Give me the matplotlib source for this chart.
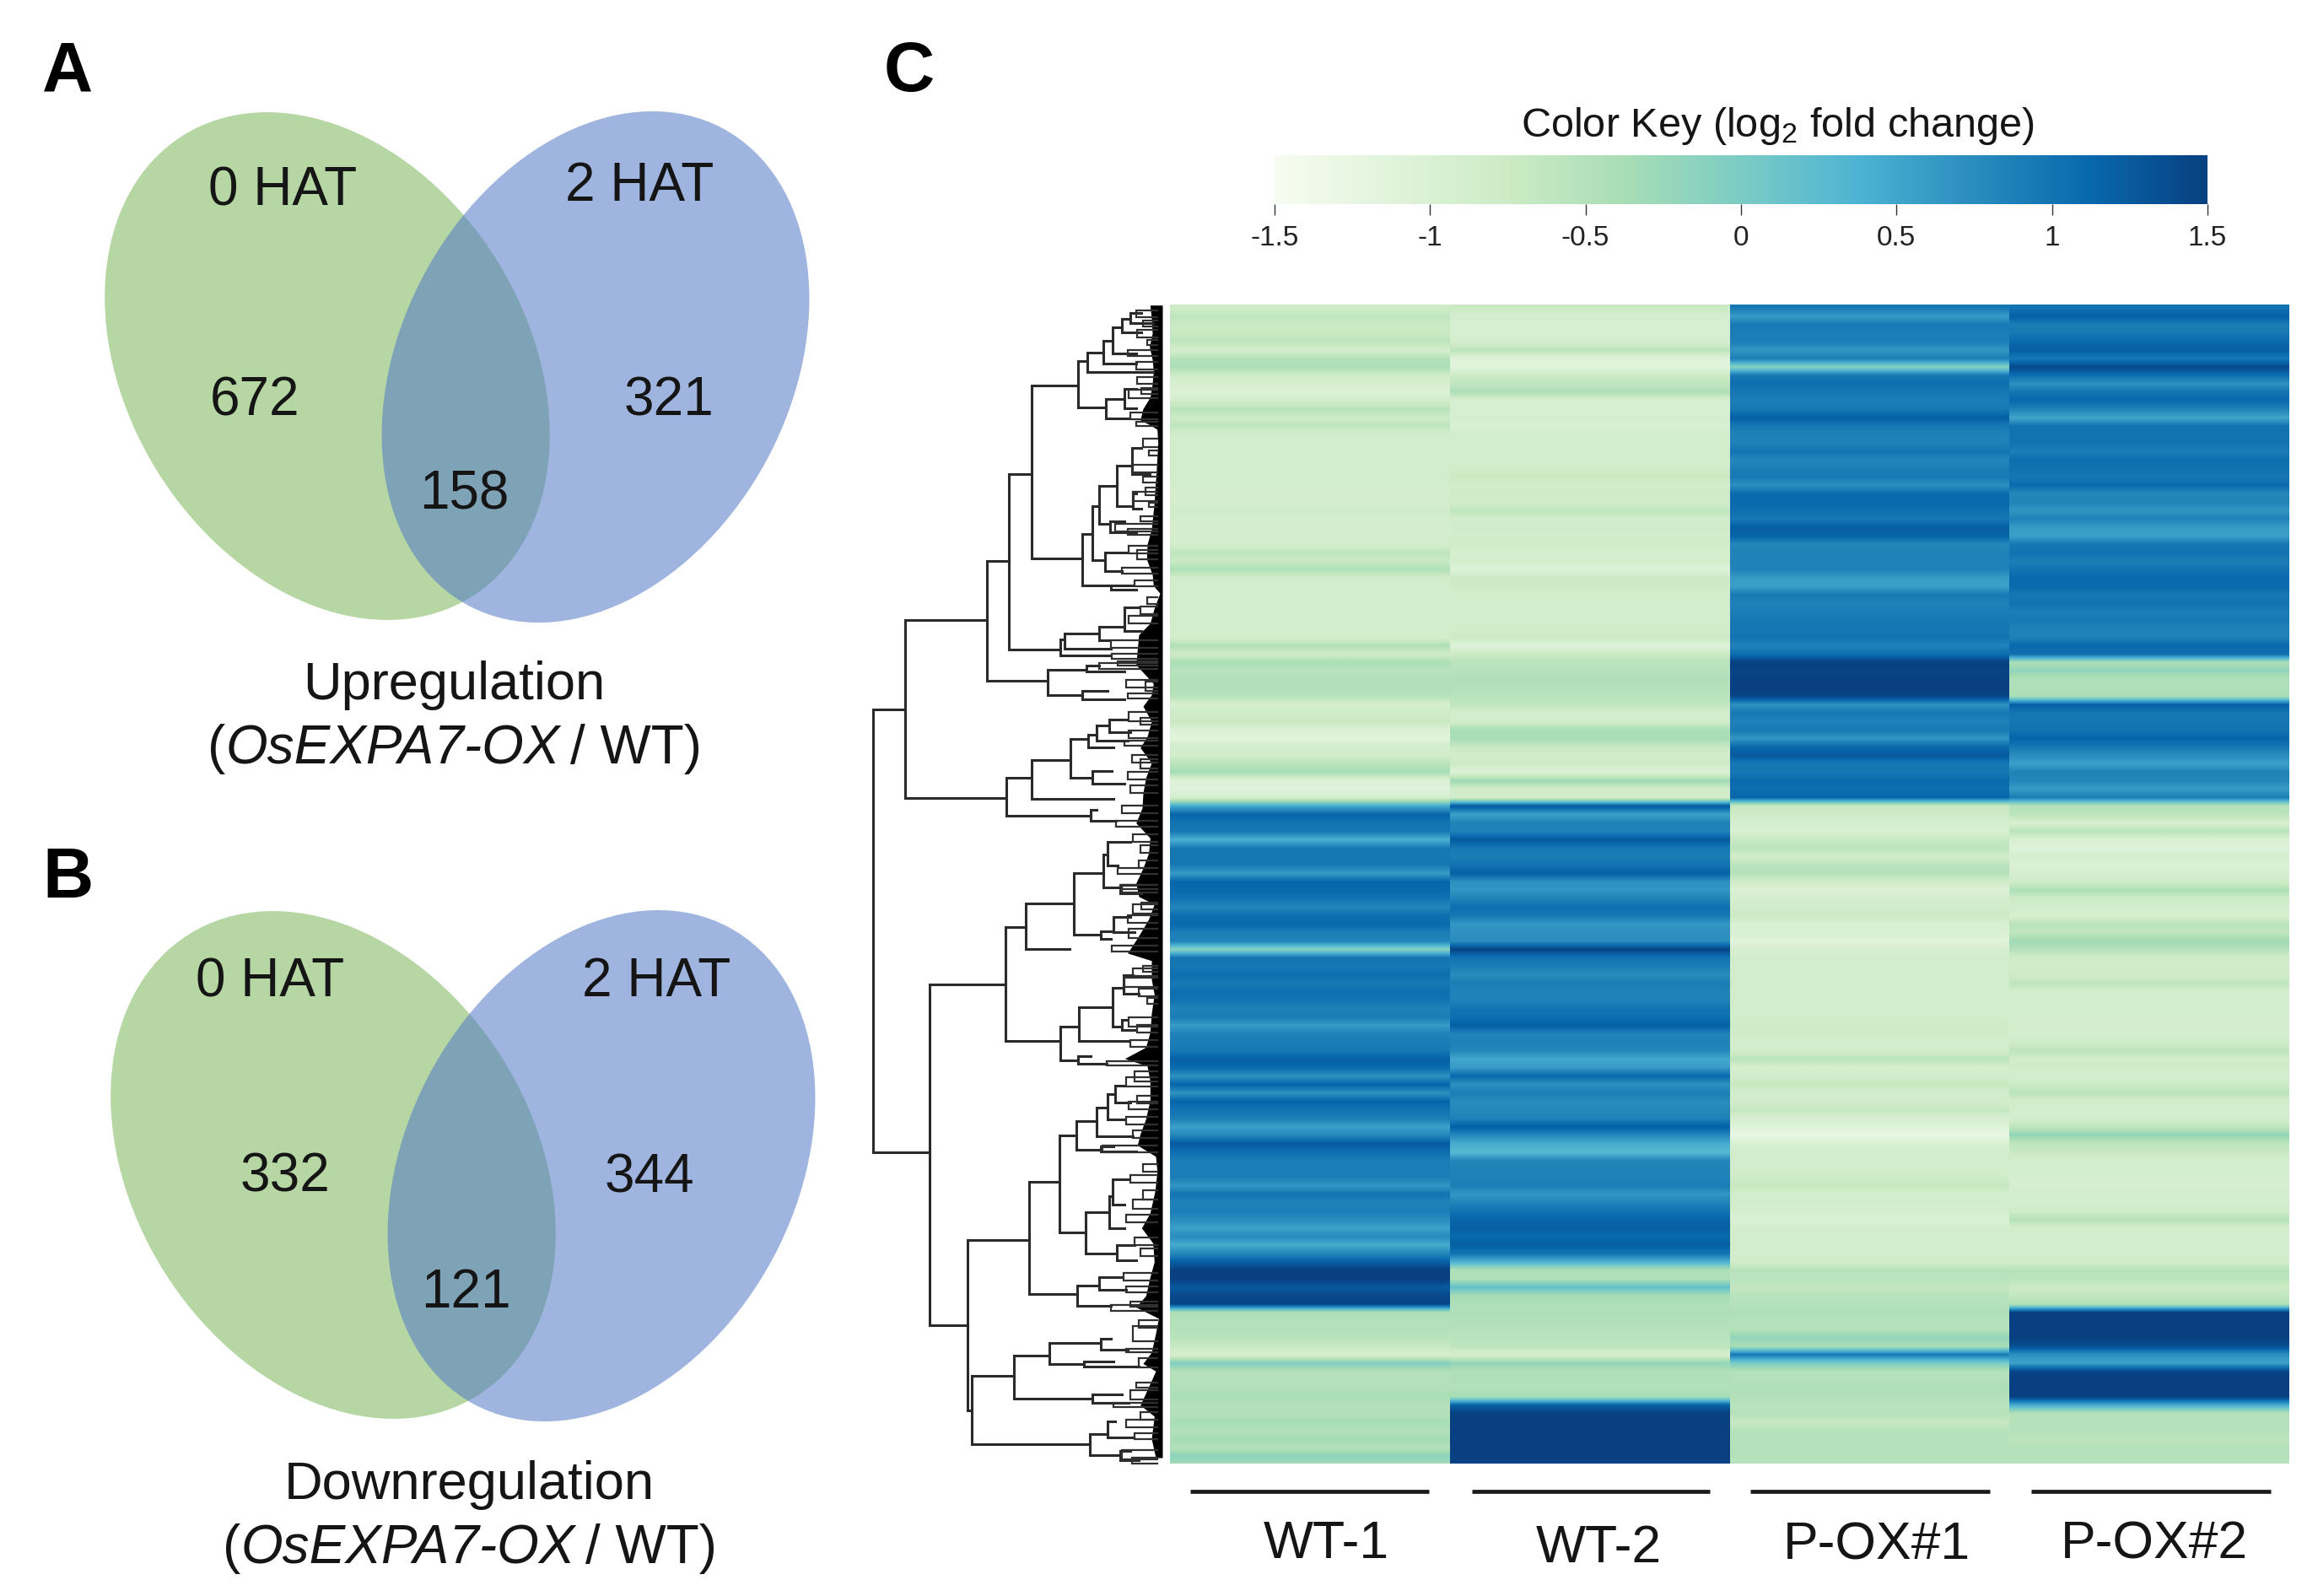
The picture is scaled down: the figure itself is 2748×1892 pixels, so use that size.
import numpy as np
import matplotlib
matplotlib.use("Agg")
import matplotlib.pyplot as plt
from matplotlib.patches import Ellipse
from matplotlib.cm import ScalarMappable
from matplotlib.colors import Normalize

plt.rcParams['font.family'] = ['Liberation Sans', 'DejaVu Sans']
plt.rcParams['mathtext.fontset'] = 'custom'
plt.rcParams['mathtext.rm'] = 'Liberation Sans'
plt.rcParams['mathtext.default'] = 'regular'

# Venn counts
venn_up = ["672", "321", "158"]
venn_down = ["332", "344", "121"]
time_labels = ["0 HAT", "2 HAT"]

# Heatmap, log2 fold change, one value per 10 px band
samples = ["WT-1", "WT-2", "P-OX#1", "P-OX#2"]
wt1 = [-.8,-.62,-.72,-.72,-.6,-.92,-.5,-.42,-.8,-.95,-1.05,-.85,-.55,-.75,-.62,-.85,-.85,-.85,-.85,-.85,-.87,-.88,-.88,-.9,-.82,-.9,-.88,-.88,-.88,-.62,
       -.72,-.45,-.85,-.85,-.87,-.87,-.87,-.87,-.87,-.9,-.45,-.8,-.42,-.55,-.48,-.48,-.52,-.95,-.8,-.72,-1.05,-1.15,-.85,-.85,-.55,-.38,-1.05,-1.1,-.9,.45,
       1.15,1.0,.95,.4,.95,.95,.95,.6,1.15,1.1,1.0,.8,1.05,1.1,.9,.85,-.1,1.0,.95,1.05,.95,1.05,1.0,.85,.9,.6,.85,.9,.95,1.2,
       1.1,.7,1.15,.7,1.15,1.0,.9,.55,.8,1.25,1.05,.9,.9,.9,.65,1.0,.85,.9,.75,.55,.75,.45,.8,1.2,1.5,1.5,1.25,1.4,1.45,-.45,
       -.5,-.5,-.55,-.7,-.95,-.05,-.5,-.5,-.48,-.4,-.5,-.5,-.38,-.5,-.35,-.5,-.15,-.35]
wt2 = [-.72,-.92,-.95,-.95,-.9,-.58,-1.1,-1.12,-.75,-.62,-.45,-.95,-.98,-.92,-1.0,-.85,-.85,-.85,-.85,-.85,-.72,-.85,-.78,-.85,-.62,-.85,-.82,-.88,-.8,-.92,
       -.9,-1.1,-.75,-.8,-.87,-.87,-.87,-.87,-.87,-.75,-1.1,-.75,-.55,-.52,-.48,-.5,-.55,-.62,-.88,-.85,-.4,-.38,-.7,-.85,-.78,-1.05,-.32,-.8,-.85,1.25,
       .55,.85,.85,1.25,.95,.9,1.0,1.2,.7,.65,.85,1.05,.95,.65,.7,.75,1.45,1.0,.9,.75,.9,.85,.85,1.0,1.05,1.2,.85,.85,.8,.5,
       .6,1.1,.7,.9,.75,.8,.85,1.2,.8,.45,.3,.8,.85,.85,.9,.65,.85,1.0,1.15,1.2,1.1,1.2,1.0,.4,-.45,-.45,.2,-.35,-.45,-.45,
       -.48,-.52,-.55,-.6,-.9,-.2,-.45,-.45,-.48,-.35,1.2,1.5,1.5,1.5,1.5,1.5,1.5,1.5]
pox1 = [.95,.6,.95,.9,.9,.65,.9,-.1,.95,1.05,.95,.9,.95,1.2,.95,.85,.85,1.0,.8,.9,.95,.7,1.1,1.1,1.05,.95,1.2,1.15,.8,.85,
        .85,.85,.6,.55,.95,.85,.9,.95,.95,1.0,.85,1.05,1.5,1.45,1.5,1.5,1.45,.7,.95,.85,.95,.65,1.1,1.25,.95,.95,1.1,1.05,1.15,-.7,
        -.8,-.9,-1.0,-.7,-.6,-.85,-.55,-.5,-.85,-1.05,-.9,-.85,-.75,-1.0,-1.0,-1.15,-.95,-.87,-.87,-.85,-.87,-.87,-.87,-.87,-.87,-.8,-.82,-.87,-.85,-.55,
        -.95,-.85,-.7,-.85,-.88,-.65,-.95,-1.1,-1.25,-1.0,-.85,-.87,-.87,-.8,-.68,-.87,-.87,-.9,-1.05,-.87,-.87,-.87,-.87,-.85,-.52,-.55,-.65,-.55,-.5,-.45,
        -.5,-.5,-.2,-.4,.95,0,-.5,-.5,-.42,-.5,-.55,-.52,-.7,-.52,-.52,-.5,-.5,-.52]
pox2 = [1.0,1.2,.9,.95,1.1,1.2,.95,1.4,1.05,.7,1.0,1.1,.85,.5,1.0,1.0,1.0,.9,1.05,1.0,.95,1.1,.8,.85,.65,.85,.6,.55,.95,1.0,
        .9,1.0,1.1,1.1,.95,1.0,.9,.95,.85,.85,1.1,1.05,-.4,-.2,-.45,-.45,-.4,1.2,.95,.95,1.0,1.15,.95,.75,.55,.85,.8,.6,.9,-.5,
        -.55,-.95,-.55,-1.0,-1.1,-.9,-1.0,-.95,-.8,-.45,-.8,-.85,-.95,-.55,-.65,-.3,-.5,-.8,-.85,-.8,-.62,-.85,-.85,-.85,-.85,-.9,-.9,-.8,-.6,-.85,
        -.8,-.88,-.75,-.55,-.85,-.85,-.85,-.62,-.2,-.6,-.7,-.85,-.85,-.9,-.95,-.87,-.87,-.8,-.5,-.87,-.87,-.87,-.87,-.85,-.52,-.58,-.75,-.65,-.5,1.5,
        1.5,1.5,1.5,1.35,.7,.55,1.45,1.5,1.5,1.5,.4,-.5,-.52,-.5,-.6,-.5,-.5,-.52]

key_ticks = [-1.5, -1, -0.5, 0, 0.5, 1, 1.5]
key_labels = ["-1.5", "-1", "-0.5", "0", "0.5", "1", "1.5"]

# Dendrogram brackets in picture pixels:
# (x of the merge, y of upper arm, x upper child, y of lower arm, x lower child)
brackets = [
    (1035, 841, 1073, 1366, 1102),
    (1073, 735, 1170, 946, 1193), (1170, 665, 1196, 807, 1242), (1196, 562, 1223, 770, 1257),
    (1223, 457, 1278, 662, 1283), (1278, 428, 1289, 483, 1311), (1289, 418, 1308, 441, 1367),
    (1308, 404, 1319, 431, 1347), (1319, 388, 1330, 419, 1347), (1330, 378, 1340, 394, 1353),
    (1340, 371, 1353, 383, 1367), (1311, 473, 1333, 496, 1338), (1333, 461, 1347, 484, 1347),
    (1283, 633, 1295, 694, 1317), (1295, 600, 1303, 664, 1310), (1303, 576, 1324, 621, 1316),
    (1324, 552, 1342, 600, 1343), (1342, 531, 1353, 562, 1363), (1343, 585, 1347, 603, 1353),
    (1316, 618, 1333, 631, 1347), (1310, 655, 1335, 677, 1330), (1317, 694, 1343, 699, 1347),
    (1257, 758, 1262, 777, 1317), (1262, 751, 1303, 769, 1317), (1303, 743, 1333, 759, 1315),
    (1333, 720, 1350, 748, 1353), (1242, 794, 1288, 824, 1283), (1288, 789, 1303, 796, 1333),
    (1283, 819, 1313, 829, 1333),
    (1193, 922, 1223, 967, 1293), (1223, 901, 1269, 947, 1320), (1269, 876, 1290, 922, 1295),
    (1290, 871, 1300, 886, 1320), (1300, 860, 1315, 878, 1337), (1315, 853, 1335, 868, 1340),
    (1295, 914, 1318, 929, 1333), (1293, 960, 1300, 973, 1323),
    (1102, 1167, 1192, 1571, 1147), (1192, 1099, 1216, 1234, 1257), (1216, 1071, 1273, 1125, 1268),
    (1273, 1035, 1308, 1108, 1305), (1308, 1013, 1313, 1052, 1328), (1313, 998, 1340, 1026, 1325),
    (1328, 1049, 1347, 1059, 1353), (1305, 1104, 1320, 1113, 1317), (1320, 1087, 1340, 1105, 1345),
    (1257, 1217, 1279, 1257, 1278), (1279, 1194, 1319, 1234, 1337), (1319, 1171, 1332, 1217, 1330),
    (1332, 1156, 1343, 1178, 1350), (1330, 1209, 1337, 1221, 1347), (1278, 1252, 1293, 1261, 1312),
    (1147, 1470, 1220, 1672, 1152), (1220, 1401, 1256, 1534, 1277), (1256, 1346, 1276, 1461, 1287),
    (1276, 1329, 1300, 1363, 1305), (1300, 1313, 1313, 1347, 1343), (1313, 1297, 1322, 1327, 1333),
    (1322, 1287, 1333, 1307, 1340), (1305, 1359, 1320, 1365, 1347), (1287, 1437, 1315, 1486, 1324),
    (1315, 1418, 1319, 1456, 1333), (1319, 1398, 1338, 1428, 1333), (1324, 1476, 1345, 1494, 1347),
    (1277, 1524, 1303, 1548, 1317), (1303, 1514, 1330, 1529, 1335),
    (1152, 1631, 1202, 1712, 1292), (1202, 1607, 1244, 1658, 1295), (1244, 1592, 1305, 1617, 1285),
    (1305, 1587, 1317, 1600, 1337), (1285, 1614, 1320, 1620, 1350), (1295, 1653, 1330, 1663, 1338),
    (1292, 1700, 1313, 1725, 1328), (1313, 1685, 1322, 1704, 1343), (1328, 1720, 1340, 1731, 1350),
]

# small end twigs and the left edge of the black leaf band, read from two tall
# crops (x = 1280 + dx / 3, y = top + dy / 2.24), top 355 and 1045
twigs_top = [(200,30,48),(225,55,72),(205,80,100),(240,108,122),(170,135,150),(200,165,185),(205,205,225),(220,235,252),(175,240,262),(180,300,318),(200,325,335),
             (225,370,392),(245,400,415),(190,440,460),(225,470,485),(190,510,535),(235,500,520),(245,540,552),(215,575,590),(125,595,615),(170,610,625),(175,655,675),(205,665,690),(150,712,728),(195,745,762),(240,790,808),(215,815,835),(175,840,860),(110,905,925),(115,940,955),(70,965,980),(135,960,972),
             (165,1010,1030),(235,1015,1040),(170,1045,1060),(175,1095,1120),(215,1110,1130),(175,1145,1165),(160,1172,1185),(185,1210,1230),(215,1220,1245),(170,1255,1275),(180,1290,1310),(150,1345,1365),(130,1385,1400),(190,1420,1440),(215,1450,1470),(135,1510,1525),(210,1490,1510),(150,1555,1565)]
twigs_low = [(150,10,30),(190,60,85),(220,55,75),(170,90,110),(175,125,150),(115,170,185),(190,230,250),(225,225,240),(160,255,280),(210,285,305),(240,310,325),(175,360,385),(205,380,400),(180,420,440),(95,478,488),
             (195,505,530),(165,520,545),(175,585,605),(205,570,590),(165,625,645),(190,660,680),(80,700,718),(180,780,800),(225,750,770),(190,845,870),(225,820,845),(165,885,905),(195,945,965),(215,975,995),(155,1040,1060),(165,1075,1090),(180,1115,1130),(110,1125,1140),
             (190,1180,1220),(210,1165,1185),(165,1240,1250),(210,1265,1290),(200,1330,1345),(180,1350,1375),(120,1385,1395),(215,1410,1430),(165,1430,1450),(195,1465,1480),(150,1510,1535),(185,1530,1545)]
band_top_dy = [15,50,90,125,160,190,225,260,290,320,335,345,380,420,460,500,540,575,610,650,690,730,760,780,820,860,890,930,970,990,1020,1050,1080,1120,1160,1190,1230,1270,1310,1350,1390,1430,1470,1510,1550]
band_top_dx = [250,255,258,248,258,262,258,250,225,215,255,275,278,275,272,268,265,260,255,240,238,258,262,285,265,250,210,205,200,225,262,255,225,255,240,215,255,235,225,222,200,250,245,225,200]
band_low_dy = [40,60,100,150,190,210,260,300,350,400,440,470,490,530,580,630,670,700,730,770,820,880,920,960,1010,1050,1100,1130,1160,1200,1250,1280,1300,1350,1390,1420,1480,1530]
band_low_dx = [210,265,245,205,170,255,255,265,255,250,235,160,240,250,250,235,215,205,270,275,268,250,220,260,265,250,235,200,280,270,255,225,270,240,215,265,255,270]

fig = plt.figure(figsize=(27.48, 18.92), dpi=100)
W, H = 2748, 1892

ax = fig.add_axes([0, 0, 1, 1])
ax.set_xlim(0, W)
ax.set_ylim(H, 0)
ax.axis("off")

text_col = "#151515"


def draw_venn(gx, gy, bx, by):
    ax.add_patch(Ellipse((gx, gy), 645, 474, angle=58, fc="#B6D7A3", ec="none"))
    ax.add_patch(Ellipse((bx, by), 641, 462, angle=-62, fc="#547BC6", ec="none", alpha=0.56))


def italic_line(xc, y, pieces, size=46):
    # one centred line made of upright and italic runs
    r = fig.canvas.get_renderer()
    items = []
    total = 0
    for s, style, gap in pieces:
        t = ax.text(0, y, s, fontsize=size, style=style, va="center", ha="left", color=text_col)
        w = t.get_window_extent(r).width
        items.append((t, w, gap))
        total += w + gap
    x = xc - total / 2
    for t, w, gap in items:
        t.set_x(x)
        x += w + gap


draw_venn(388, 434, 706, 435)
draw_venn(395, 1381, 713, 1382)

for s, x, y in zip(time_labels, [335, 758], [226, 221]):
    ax.text(x, y, s, fontsize=46, ha="center", va="center", color=text_col)
for s, x, y in zip(venn_up, [302, 793, 550], [475, 475, 586]):
    ax.text(x, y, s, fontsize=46, ha="center", va="center", color=text_col)
for s, x, y in zip(time_labels, [320, 778], [1164, 1164]):
    ax.text(x, y, s, fontsize=46, ha="center", va="center", color=text_col)
for s, x, y in zip(venn_down, [338, 770, 552], [1395, 1396, 1533]):
    ax.text(x, y, s, fontsize=46, ha="center", va="center", color=text_col)

ax.text(538, 812, "Upregulation", fontsize=45.5, ha="center", va="center", color=text_col)
italic_line(539, 888, [("(", "normal", 0), ("OsEXPA7-OX", "italic", 12), ("/ WT)", "normal", 0)])
ax.text(556, 1760, "Downregulation", fontsize=45.5, ha="center", va="center", color=text_col)
italic_line(557, 1836, [("(", "normal", 0), ("OsEXPA7-OX", "italic", 12), ("/ WT)", "normal", 0)])

for s, x, y in zip("ABC", [80, 80, 1078], [87, 1042, 86]):
    ax.text(x, y, s, fontsize=60, fontweight="bold", ha="center", va="center", color="black")

# dendrogram
for xm, y1, c1, y2, c2 in brackets:
    ax.plot([c1, xm, xm, c2], [y1, y1, y2, y2], color="#2a2a2a", lw=2.2, solid_joinstyle="miter")
for top, twigs in [(355, twigs_top), (1045, twigs_low)]:
    for dx, dy1, dy2 in twigs:
        xm = 1280 + dx / 3
        y1 = top + dy1 / 2.24
        y2 = top + dy2 / 2.24
        ax.plot([1372, xm, xm, 1372], [y1, y1, y2, y2], color="#303030", lw=1.6, solid_joinstyle="miter")
fringe_y = np.concatenate([355 + np.array(band_top_dy) / 2.24, 1045 + np.array(band_low_dy) / 2.24])
fringe_x = np.concatenate([1280 + np.array(band_top_dx) / 3, 1280 + np.array(band_low_dx) / 3])
ax.fill_betweenx(fringe_y, fringe_x, 1378, color="black", lw=0)

# sample bars and names
for x0, x1 in [(1411, 1694), (1745, 2027), (2075, 2359), (2408, 2692)]:
    ax.plot([x0, x1], [1768, 1768], color="#1a1a1a", lw=3.4, solid_capstyle="butt")
for s, x, y in zip(samples, [1572, 1895, 2225, 2554], [1830, 1835, 1832, 1831]):
    ax.text(x, y, s, fontsize=45, ha="center", va="center", color=text_col)

# heatmap, each column on its own so the rows blur but the columns stay sharp
hm = fig.add_axes([1387 / W, 1 - 1735 / H, (2714 - 1387) / W, (1735 - 361) / H])
n_rows = len(wt1)
for j, col in enumerate([wt1, wt2, pox1, pox2]):
    vals = np.array(col)[:, None]
    hm.imshow(vals, cmap="GnBu", vmin=-1.5, vmax=1.5, aspect="auto",
              extent=(j, j + 1, n_rows, 0), interpolation="bilinear")
hm.set_xlim(0, 4)
hm.set_ylim(137.4, 0)
hm.axis("off")

# colour key
cax = fig.add_axes([1511 / W, 1 - 242 / H, (2617 - 1511) / W, (242 - 184) / H])
cb = fig.colorbar(ScalarMappable(Normalize(-1.5, 1.5), "GnBu"), cax=cax,
                  orientation="horizontal", ticks=key_ticks)
cb.ax.set_xticklabels(key_labels)
cb.outline.set_visible(False)
cb.ax.tick_params(axis="x", length=9, width=1, labelsize=24, pad=9, color="#333333", labelcolor="#222222")
ax.text(2107, 149, r"Color Key (log$_{2}$ fold change)", fontsize=35, ha="center", va="center", color=text_col)

fig.savefig("out.png", dpi=100)
